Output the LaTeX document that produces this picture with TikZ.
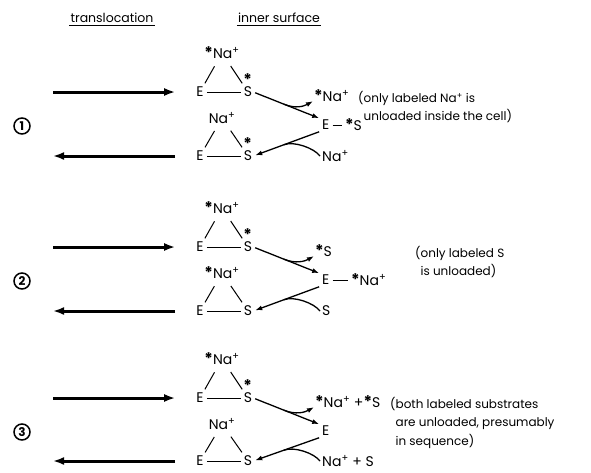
\documentclass[tikz,border=0pt]{standalone}
\usepackage{fontspec}
\setmainfont{Poppins}
\usetikzlibrary{arrows.meta,calc}
\newcommand\lbst{{\fontsize{16}{16}\selectfont\bfseries *}}
\newcommand\nap{Na\textsuperscript{+}}
\newcommand\sstr{S\llap{\smash{\raisebox{11.5pt}{\lbst}}\kern0.3pt}}
\begin{document}
\begin{tikzpicture}[x=1pt,y=1pt,
  every node/.style={font=\fontsize{14}{16}\selectfont,inner sep=1pt},
  bond/.style={line width=1pt,shorten <=7pt,shorten >=3pt},
  ebond/.style={line width=1pt,shorten <=2pt,shorten >=2pt},
  trans/.style={line width=3pt,-{Latex[length=11pt,width=8pt]}},
  rx/.style={line width=1.3pt,-{Latex[length=7pt,width=5pt]}},
  rxl/.style={line width=1.3pt},
  num/.style={circle,draw,line width=1.5pt,minimum size=16pt,inner sep=0pt,font=\fontsize{12}{12}\selectfont\bfseries},
  note/.style={anchor=north west,align=left,inner sep=0pt,font=\fontsize{12}{18.5}\selectfont},
  hdr/.style={font=\fontsize{12.5}{14}\selectfont},
  rl/.style={anchor=west}
]
\useasboundingbox (0,0) rectangle (591,-472);
% headers
\node[hdr] (h1) at (112,-18) {translocation};
\node[hdr] (h2) at (279,-18) {inner surface};
\draw[line width=1pt] ([yshift=-1pt]h1.south west) -- ([yshift=-1pt]h1.south east);
\draw[line width=1pt] ([yshift=-1pt]h2.south west) -- ([yshift=-1pt]h2.south east);

% ---------- panel 1 ----------
\begin{scope}[shift={(0,-92)}]
\node (p1tNa) at (222,39) {\lbst\nap};
\node (p1tE) at (200,0) {E};
\node (p1tS) at (248,0) {\sstr};
\draw[bond] (p1tNa) -- (p1tE);
\draw[bond] (p1tNa) -- (p1tS);
\draw[ebond] (p1tE) -- (p1tS);
\node (p1bNa) at (222,-26) {\nap};
\node (p1bE) at (200,-64) {E};
\node (p1bS) at (248,-64) {\sstr};
\draw[bond] (p1bNa) -- (p1bE);
\draw[bond] (p1bNa) -- (p1bS);
\draw[ebond] (p1bE) -- (p1bS);
\coordinate (p1a) at (53,0);
\coordinate (p1b) at (53,-64);
\draw[trans,shorten >=20pt] (p1a) -- (p1tE.west);
\draw[trans,shorten <=20pt] (p1bE.west) -- (p1b);
\node[num] (p1n) at (22,-34) {1};
\node[rl] (p1rT) at (313,-4) {\lbst\nap};
\node[rl] (p1rE) at (321,-33) {E};
\node[rl] (p1rX) at (344,-33) {\lbst S};
\draw[ebond] (p1rE) -- (p1rX);
\node[rl] (p1rB) at (321,-64) {\nap};
\draw[rx,shorten <=2pt,shorten >=2pt] (p1tS.east) -- (p1rE.north west);
\coordinate (p1u) at ($(p1tS.east)!0.45!(p1rE.north west)$);
\draw[rx] (p1u) .. controls ($(p1u)+(12,-5)$) and ($(p1rT.south west)+(-9,-3)$) .. ([yshift=2pt]p1rT.south west);
\draw[rx,shorten <=2pt,shorten >=2pt] (p1rE.south west) -- (p1bS.east);
\coordinate (p1l) at ($(p1rE.south west)!0.55!(p1bS.east)$);
\draw[rxl] ([xshift=-1pt]p1rB.west) .. controls ($(p1rB.west)+(-7,8)$) and ($(p1l)+(10,4)$) .. (p1l);
\node[note] (p1txt) at (358,1) {(only labeled \nap{} is\\\phantom{(}unloaded inside the cell)};
\end{scope}

% ---------- panel 2 ----------
\begin{scope}[shift={(0,-247)}]
\node (p2tNa) at (222,39) {\lbst\nap};
\node (p2tE) at (200,0) {E};
\node (p2tS) at (248,0) {\sstr};
\draw[bond] (p2tNa) -- (p2tE);
\draw[bond] (p2tNa) -- (p2tS);
\draw[ebond] (p2tE) -- (p2tS);
\node (p2bNa) at (222,-26) {\lbst\nap};
\node (p2bE) at (200,-64) {E};
\node (p2bS) at (248,-64) {S};
\draw[bond] (p2bNa) -- (p2bE);
\draw[bond] (p2bNa) -- (p2bS);
\draw[ebond] (p2bE) -- (p2bS);
\coordinate (p2a) at (53,0);
\coordinate (p2b) at (53,-64);
\draw[trans,shorten >=20pt] (p2a) -- (p2tE.west);
\draw[trans,shorten <=20pt] (p2bE.west) -- (p2b);
\node[num] (p2n) at (22,-34) {2};
\node[rl] (p2rT) at (314,-4) {\lbst S};
\node[rl] (p2rE) at (321,-33) {E};
\node[rl] (p2rX) at (350,-33) {\lbst\nap};
\draw[ebond] (p2rE) -- (p2rX);
\node[rl] (p2rB) at (321,-64) {S};
\draw[rx,shorten <=2pt,shorten >=2pt] (p2tS.east) -- (p2rE.north west);
\coordinate (p2u) at ($(p2tS.east)!0.45!(p2rE.north west)$);
\draw[rx] (p2u) .. controls ($(p2u)+(12,-5)$) and ($(p2rT.south west)+(-9,-3)$) .. ([yshift=2pt]p2rT.south west);
\draw[rx,shorten <=2pt,shorten >=2pt] (p2rE.south west) -- (p2bS.east);
\coordinate (p2l) at ($(p2rE.south west)!0.55!(p2bS.east)$);
\draw[rxl] ([xshift=-1pt]p2rB.west) .. controls ($(p2rB.west)+(-7,8)$) and ($(p2l)+(10,4)$) .. (p2l);
\node[note] (p2txt) at (415,1) {(only labeled S\\\phantom{(}is unloaded)};
\end{scope}

% ---------- panel 3 ----------
\begin{scope}[shift={(0,-398)}]
\node (p3tNa) at (222,39) {\lbst\nap};
\node (p3tE) at (200,0) {E};
\node (p3tS) at (248,0) {\sstr};
\draw[bond] (p3tNa) -- (p3tE);
\draw[bond] (p3tNa) -- (p3tS);
\draw[ebond] (p3tE) -- (p3tS);
\node (p3bNa) at (222,-26) {\nap};
\node (p3bE) at (200,-63) {E};
\node (p3bS) at (248,-63) {S};
\draw[bond] (p3bNa) -- (p3bE);
\draw[bond] (p3bNa) -- (p3bS);
\draw[ebond] (p3bE) -- (p3bS);
\coordinate (p3a) at (53,0);
\coordinate (p3b) at (53,-63);
\draw[trans,shorten >=20pt] (p3a) -- (p3tE.west);
\draw[trans,shorten <=20pt] (p3bE.west) -- (p3b);
\node[num] (p3n) at (22,-34) {3};
\node[rl] (p3rT) at (314,-4) {\lbst\nap{} +\lbst S};
\node[rl] (p3rE) at (321,-33) {E};
\node[rl] (p3rB) at (321,-63) {\nap{} + S};
\draw[rx,shorten <=2pt,shorten >=2pt] (p3tS.east) -- (p3rE.north west);
\coordinate (p3u) at ($(p3tS.east)!0.45!(p3rE.north west)$);
\draw[rx] (p3u) .. controls ($(p3u)+(12,-5)$) and ($(p3rT.south west)+(-9,-3)$) .. ([yshift=2pt]p3rT.south west);
\draw[rx,shorten <=2pt,shorten >=2pt] (p3rE.south west) -- (p3bS.east);
\coordinate (p3l) at ($(p3rE.south west)!0.55!(p3bS.east)$);
\draw[rxl] ([xshift=-1pt]p3rB.west) .. controls ($(p3rB.west)+(-7,8)$) and ($(p3l)+(10,4)$) .. (p3l);
\node[note] (p3txt) at (390,1) {(both labeled substrates\\\phantom{(}are unloaded, presumably\\\phantom{(}in sequence)};
\end{scope}
\end{tikzpicture}
\end{document}
